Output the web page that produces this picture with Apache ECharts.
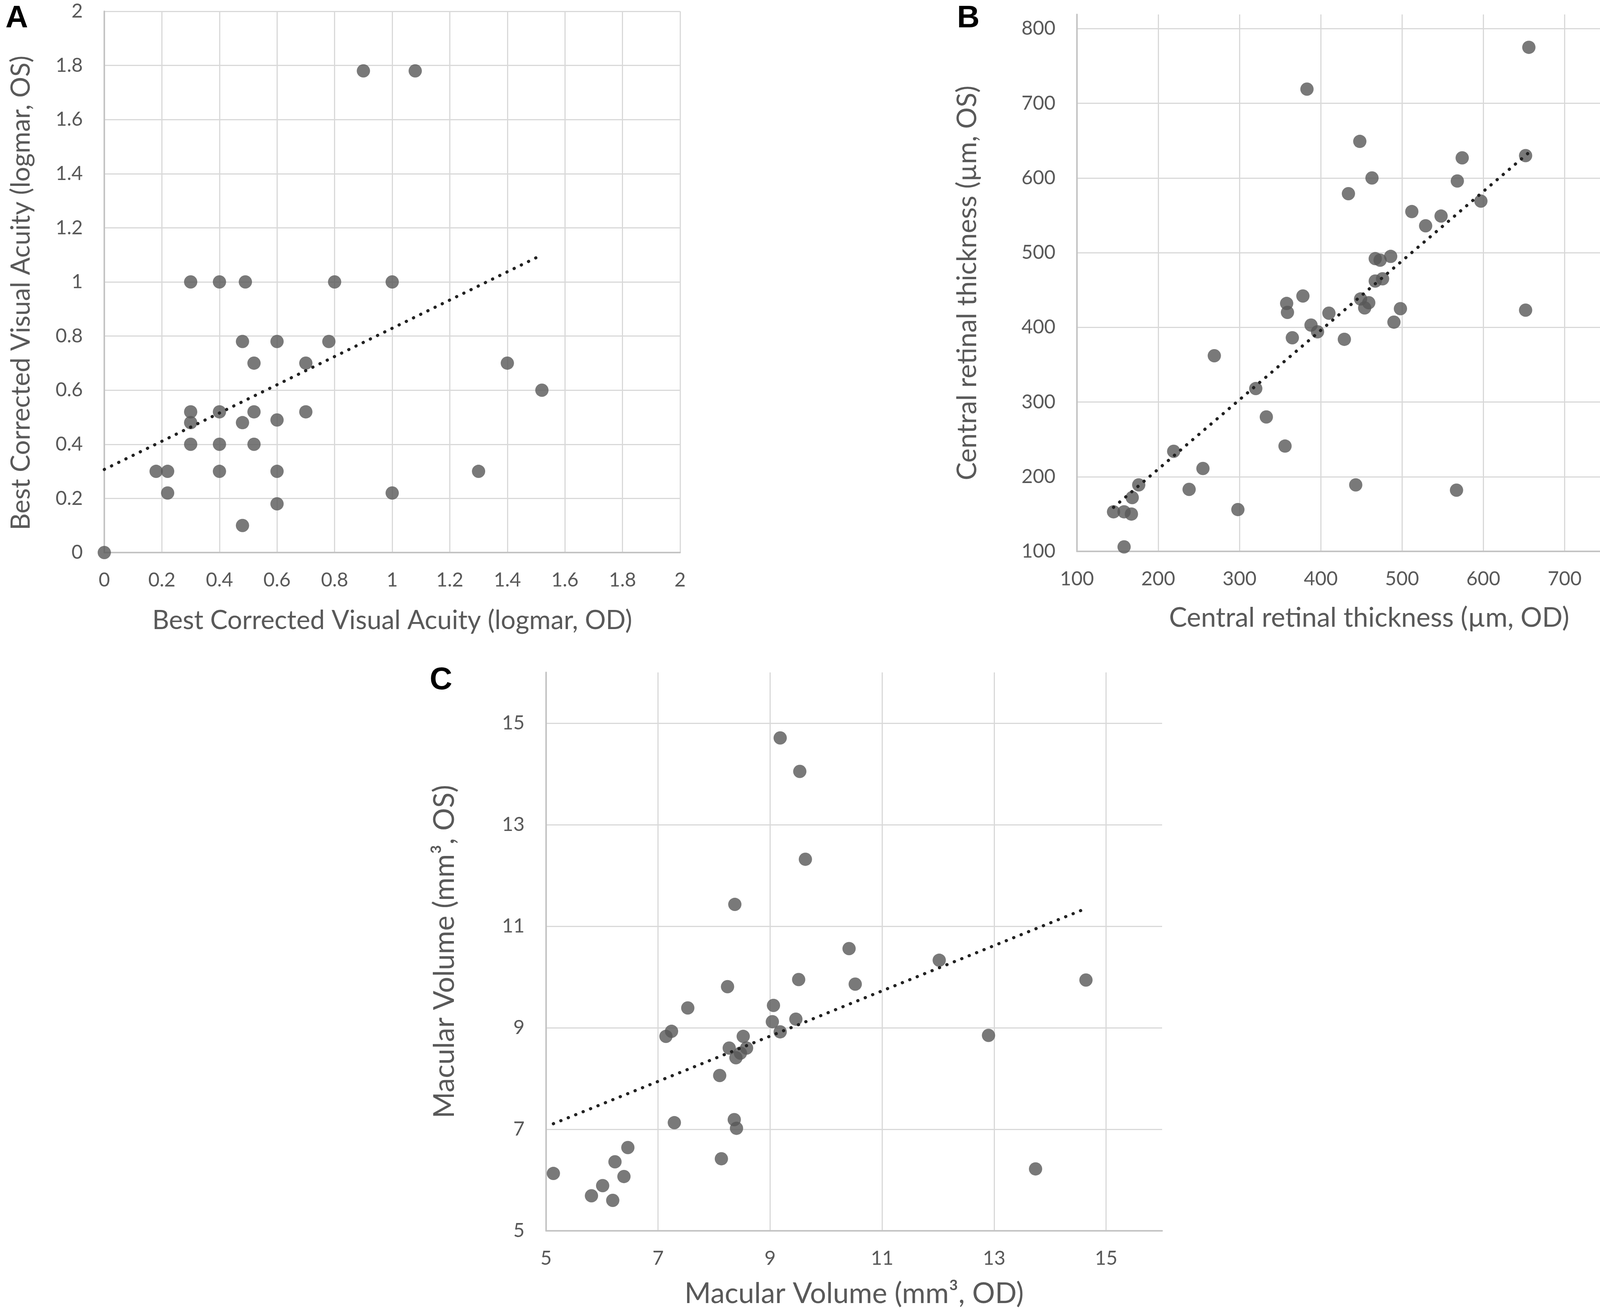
<!DOCTYPE html>
<html>
<head>
<meta charset="utf-8">
<script src="https://cdn.jsdelivr.net/npm/echarts@6/dist/echarts.min.js"></script>
<style>
  html, body { margin: 0; padding: 0; background: #fff; }
  #main { width: 4328px; height: 3365px; }
</style>
</head>
<body>
<div id="main"></div>
<script>
// panel A - best corrected visual acuity (logmar)
var aOD = [0, 0.9, 1.08, 0.3, 0.4, 0.49, 0.8, 1.0, 0.48, 0.6, 0.78, 0.52, 0.7, 1.4, 1.52, 0.3, 0.4, 0.52, 0.7, 0.3, 0.48, 0.6, 0.3, 0.4, 0.52, 0.18, 0.22, 0.4, 0.6, 1.3, 0.22, 1.0, 0.6, 0.48];
var aOS = [0, 1.78, 1.78, 1, 1, 1, 1, 1, 0.78, 0.78, 0.78, 0.7, 0.7, 0.7, 0.6, 0.52, 0.52, 0.52, 0.52, 0.48, 0.48, 0.49, 0.4, 0.4, 0.4, 0.3, 0.3, 0.3, 0.3, 0.3, 0.22, 0.22, 0.18, 0.1];
var aTrend = [[0, 0.307], [1.52, 1.1]];

// panel B - central retinal thickness (um)
var bOD = [656, 383, 448, 574, 652, 463, 568, 434, 597, 512, 548, 529, 486, 467, 473, 467, 476, 378, 449, 459, 454, 358, 359, 410, 498, 652, 388, 396, 490, 365, 429, 269, 320, 333, 356, 219, 255, 238, 443, 567, 176, 168, 145, 158, 167, 298, 158];
var bOS = [775, 719, 649, 627, 630, 600, 596, 579, 569, 555, 549, 536, 495, 492, 490, 462, 465, 442, 438, 433, 426, 432, 420, 419, 425, 423, 403, 394, 407, 386, 384, 362, 318, 280, 241, 234, 211, 183, 189, 182, 189, 172, 153, 153, 150, 156, 106];
var bTrend = [[145, 159], [656, 634]];

// panel C - macular volume (mm3)
var cOD = [9.18, 9.53, 9.63, 8.37, 10.41, 12.02, 9.51, 10.52, 14.64, 8.24, 7.53, 9.06, 9.04, 9.46, 9.18, 7.24, 7.14, 8.52, 12.90, 8.27, 8.58, 8.47, 8.39, 8.10, 7.29, 8.36, 8.40, 6.46, 6.23, 8.13, 5.13, 6.39, 13.74, 6.01, 5.81, 6.19];
var cOS = [14.71, 14.05, 12.32, 11.43, 10.56, 10.33, 9.95, 9.86, 9.94, 9.81, 9.39, 9.44, 9.12, 9.17, 8.92, 8.93, 8.83, 8.83, 8.85, 8.60, 8.60, 8.50, 8.41, 8.06, 7.13, 7.19, 7.02, 6.64, 6.36, 6.42, 6.13, 6.07, 6.22, 5.89, 5.69, 5.60];
var cTrend = [[5.13, 7.11], [14.64, 11.35]];

var textGray = '#595959';
var font = 'Lato';

function pairs(xs, ys) {
  var out = [];
  for (var i = 0; i < xs.length; i++) out.push([xs[i], ys[i]]);
  return out;
}

// showTop: whether the max end gets a label and grid line (only panel A, whose range ends on a tick)
function axis(idx, name, min, max, interval, nameGap, nameSize, isX, showTop, namePad) {
  return {
    type: 'value',
    gridIndex: idx,
    name: name,
    nameLocation: 'middle',
    nameGap: nameGap,
    nameTextStyle: { fontFamily: font, fontSize: nameSize, color: textGray, padding: namePad || 0 },
    min: min,
    max: max,
    interval: interval,
    axisLine: { show: true, onZero: false, lineStyle: { color: '#c4c4c4', width: 4 } },
    axisTick: { show: false },
    axisLabel: {
      fontFamily: font, fontSize: 50, color: textGray,
      margin: isX ? 46 : 55,
      showMaxLabel: showTop
    },
    splitLine: {
      show: true,
      showMaxLine: showTop,
      lineStyle: { color: '#d9d9d9', width: 3 }
    }
  };
}

function dots(idx, xs, ys) {
  return {
    type: 'scatter',
    xAxisIndex: idx,
    yAxisIndex: idx,
    data: pairs(xs, ys),
    symbolSize: 34,
    itemStyle: { color: '#575757' },
    z: 3
  };
}

function trend(idx, pts) {
  return {
    type: 'line',
    xAxisIndex: idx,
    yAxisIndex: idx,
    data: pts,
    showSymbol: false,
    symbol: 'none',
    lineStyle: { color: '#222', width: 8, type: [0.5, 20], cap: 'round' },
    z: 4
  };
}

var labelStyle = { fontFamily: 'Liberation Sans', fontWeight: 'bold', fontSize: 80, color: '#000' };

var myChart = echarts.init(document.getElementById('main'));
var option = {
  backgroundColor: '#fff',
  animation: false,
  title: [
    { text: 'A', left: 14, top: 8, padding: 0, textStyle: labelStyle },
    { text: 'B', left: 2450, top: 8, padding: 0, textStyle: labelStyle },
    { text: 'C', left: 1100, top: 1703, padding: 0, textStyle: labelStyle }
  ],
  grid: [
    { left: 267, top: 29, width: 1474, height: 1386, outerBoundsMode: 'none', containLabel: false },
    { left: 2757, top: 37, width: 1496, height: 1375, outerBoundsMode: 'none', containLabel: false },
    { left: 1398, top: 1722, width: 1577, height: 1430, outerBoundsMode: 'none', containLabel: false }
  ],
  xAxis: [
    axis(0, 'Best Corrected Visual Acuity (logmar, OD)', 0, 2, 0.2, 141, 67, true, true),
    axis(1, 'Central retinal thickness (\u00b5m, OD)', 100, 819, 100, 136, 69, true, false),
    axis(2, 'Macular Volume (mm\u00b3, OD)', 5, 16, 2, 125, 73, true, false)
  ],
  yAxis: [
    axis(0, 'Best Corrected Visual Acuity (logmar, OS)', 0, 2, 0.2, 179, 67, false, true, [0, 56, 0, 0]),
    axis(1, 'Central retinal thickness (\u00b5m, OS)', 100, 819, 100, 246, 69, false, false),
    axis(2, 'Macular Volume (mm\u00b3, OS)', 5, 16, 2, 223, 73, false, false)
  ],
  series: [
    dots(0, aOD, aOS), trend(0, aTrend),
    dots(1, bOD, bOS), trend(1, bTrend),
    dots(2, cOD, cOS), trend(2, cTrend)
  ]
};
myChart.setOption(option);
window.addEventListener("resize", function() {
  myChart.resize();
});
</script>
</body>
</html>
